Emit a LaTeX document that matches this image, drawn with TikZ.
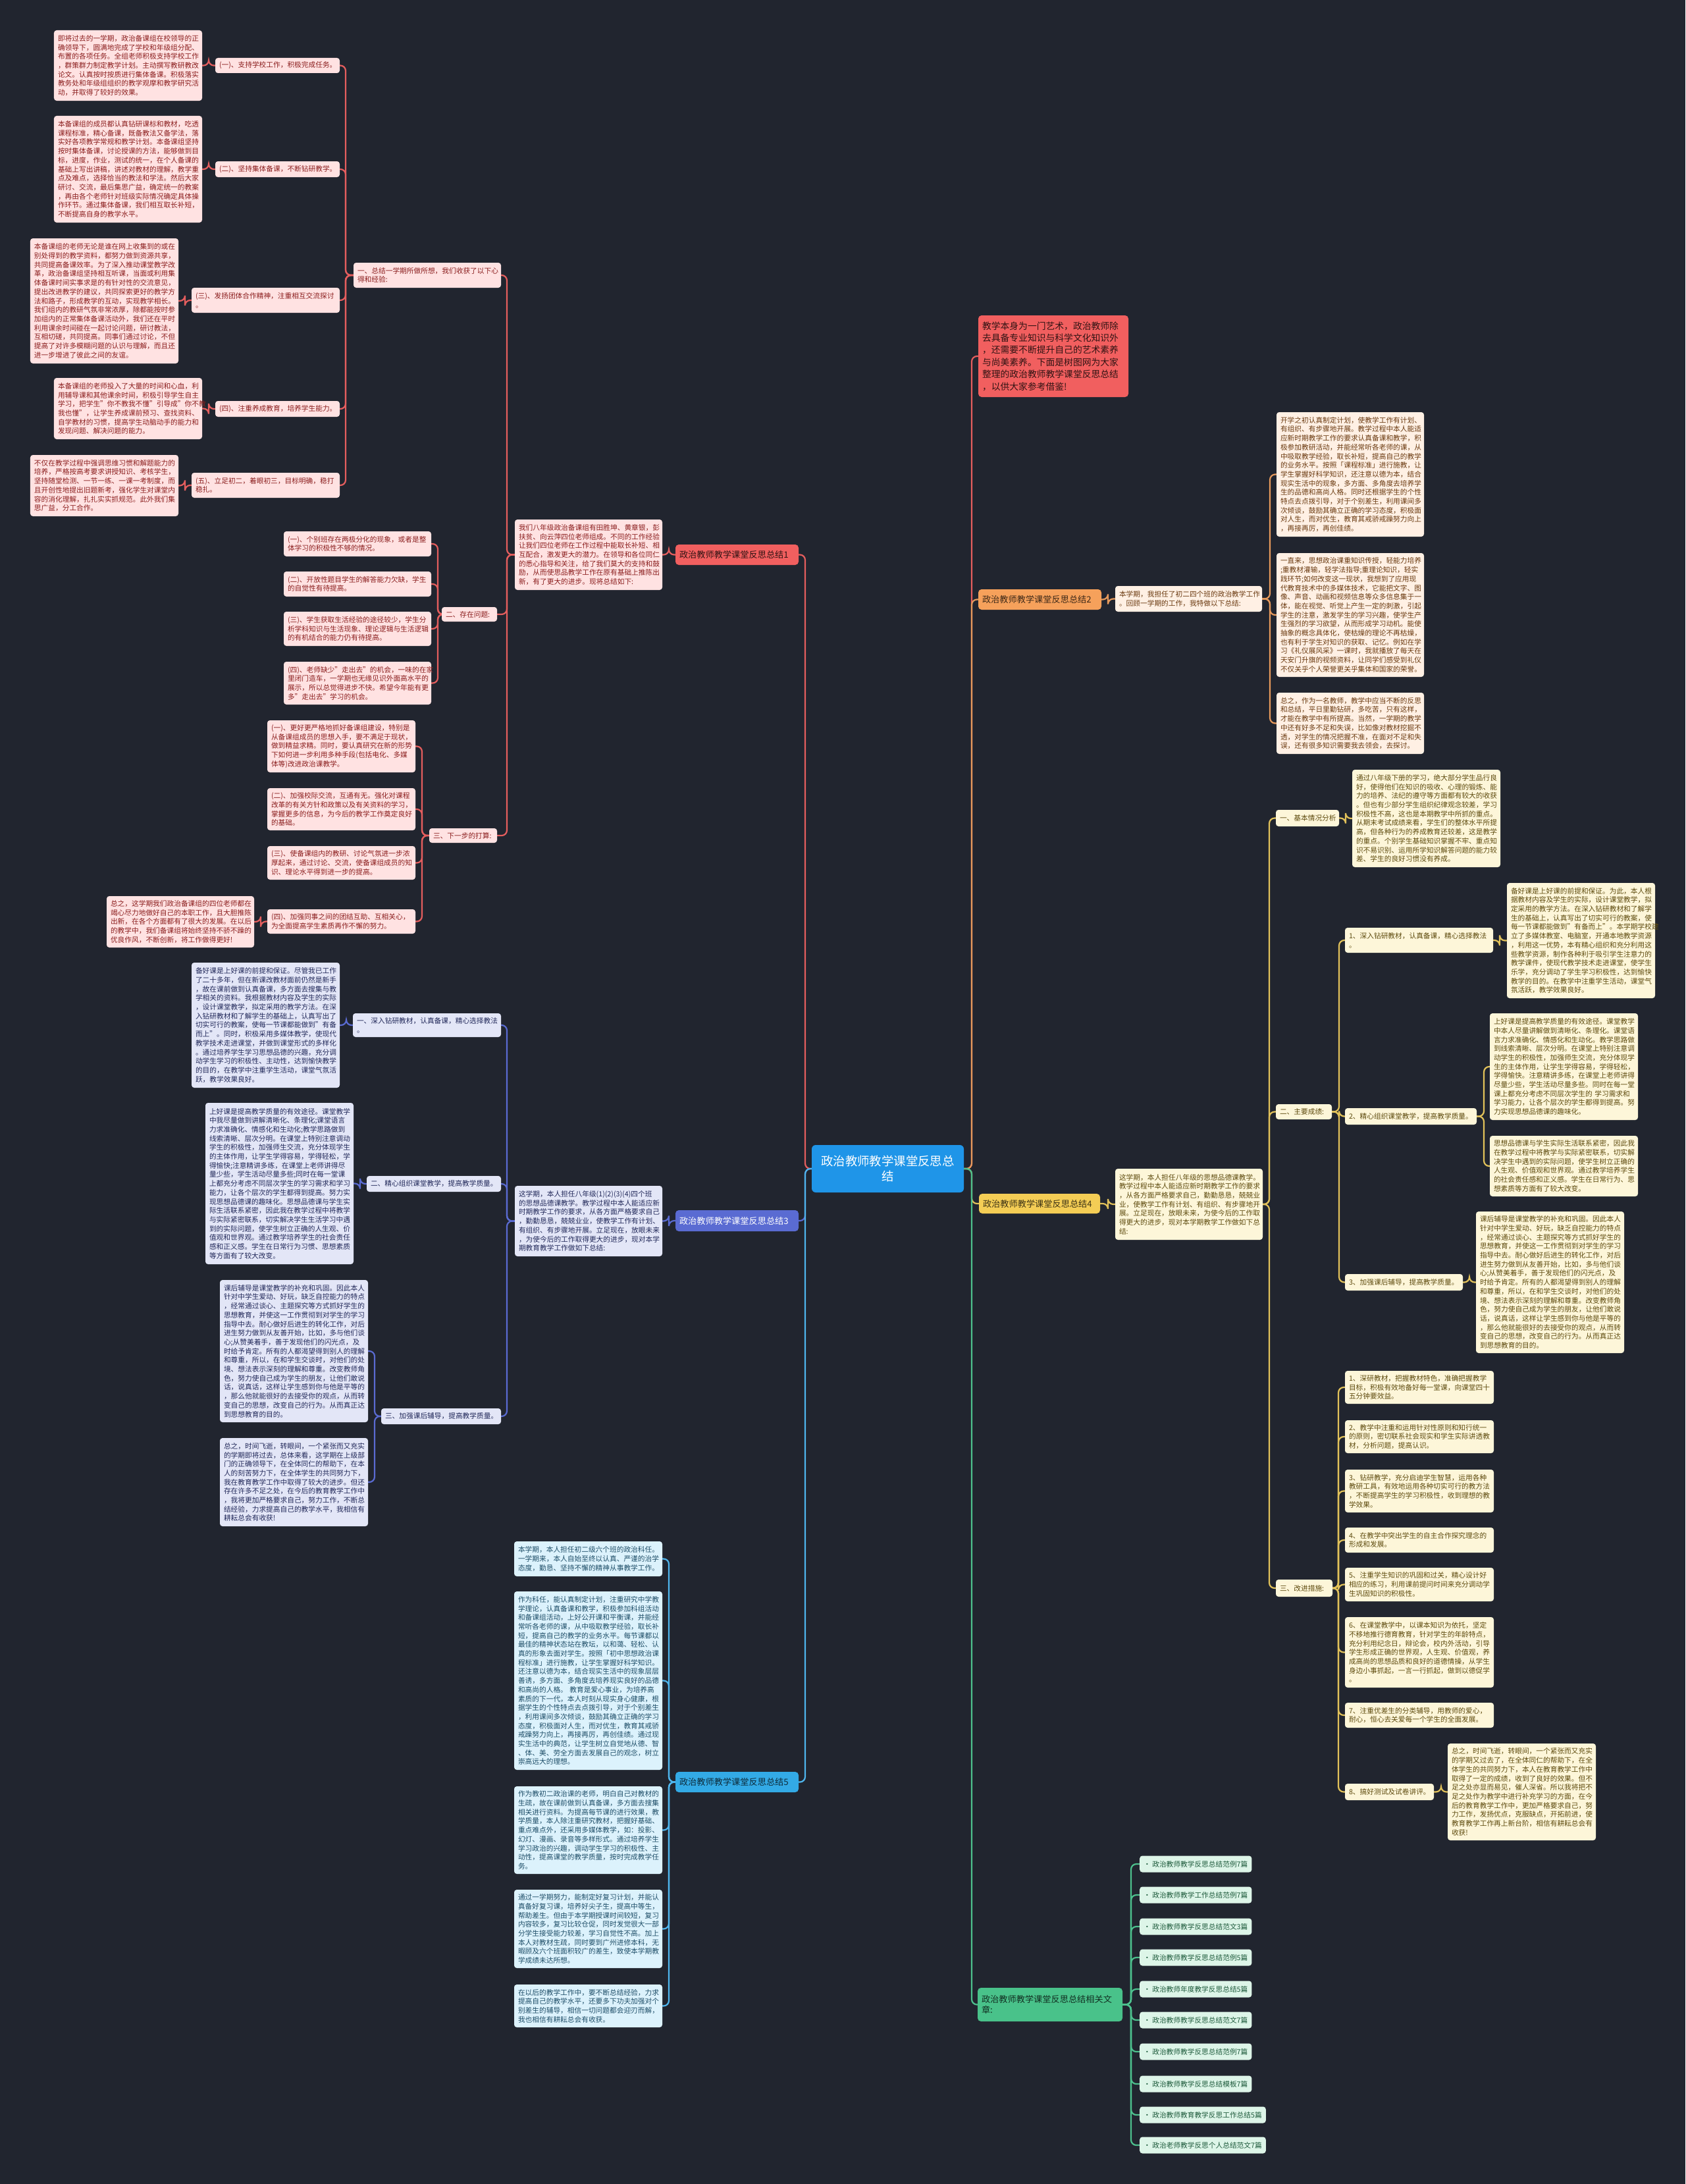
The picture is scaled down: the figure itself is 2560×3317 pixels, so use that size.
\documentclass[tikz,border=0pt]{standalone}
\usepackage{fontspec}
\setmainfont{Noto Sans CJK SC}
\usetikzlibrary{calc}
\definecolor{bg}{RGB}{33,37,47}
\definecolor{cfill}{HTML}{1F95E8}
\definecolor{rnode}{HTML}{F15F5F}\definecolor{rbox}{HTML}{FFE2E2}\definecolor{rtxt}{HTML}{8B1E1E}\definecolor{rln}{HTML}{E55E5E}
\definecolor{inode}{HTML}{5A6BD2}\definecolor{ibox}{HTML}{E3E6F7}\definecolor{itxt}{HTML}{22295A}\definecolor{iln}{HTML}{5A6BD2}
\definecolor{snode}{HTML}{33AAE6}\definecolor{sbox}{HTML}{DCF2FC}\definecolor{stxt}{HTML}{1E4E68}\definecolor{sln}{HTML}{4FB6EE}
\definecolor{onode}{HTML}{F6A15B}\definecolor{obox}{HTML}{FFF0E4}\definecolor{otxt}{HTML}{6A3A10}\definecolor{oln}{HTML}{E69A5C}
\definecolor{ynode}{HTML}{F4CD55}\definecolor{ybox}{HTML}{FDF6D9}\definecolor{ytxt}{HTML}{5E4B0E}\definecolor{yln}{HTML}{E2C25A}
\definecolor{gnode}{HTML}{49C28A}\definecolor{gbox}{HTML}{DDF5E8}\definecolor{gtxt}{HTML}{1D5A3B}\definecolor{gln}{HTML}{4DC08D}
\newcommand\myfs{\fontsize{10.7bp}{13.7bp}\selectfont}
\newcommand\myfm{\fontsize{13.2bp}{16.5bp}\selectfont}
\newcommand\myfi{\fontsize{13.8bp}{18.4bp}\selectfont}
\newcommand\myfc{\fontsize{18.4bp}{23bp}\selectfont}
\newcommand\bx[7]{\pgfmathsetmacro\bxw{#4-#2}\pgfmathsetmacro\bxh{#5-#3}\pgfmathsetmacro\bxt{#4-#2-12}%
 \node[#6,minimum width=\bxw bp,minimum height=\bxh bp,text width=\bxt bp] (#1) at ({(#2+#4)/2},{(#3+#5)/2}) {#7};}
\newcommand\lc[4]{\draw[#1] (#2.west) -- (#2.west -| #3) |- (#4.east);}
\newcommand\rc[4]{\draw[#1] (#2.east) -- (#2.east -| #3) |- (#4.west);}
\pgfdeclarelayer{bgfill}\pgfdeclarelayer{lines}
\pgfsetlayers{bgfill,lines,main}
\tikzset{
 basebox/.style={rounded corners=4bp, inner xsep=6bp, inner ysep=1bp, align=left, font=\myfs},
 lblbox/.style={rounded corners=5bp, inner xsep=6bp, inner ysep=1bp, align=left, font=\myfm},
 rbx/.style={basebox, fill=rbox, text=rtxt}, rnd/.style={lblbox, fill=rnode, text=black!80!rnode},
 ibx/.style={basebox, fill=ibox, text=itxt}, ind/.style={lblbox, fill=inode, text=white},
 sbx/.style={basebox, fill=sbox, text=stxt}, snd/.style={lblbox, fill=snode, text=black!75!snode},
 obx/.style={basebox, fill=obox, text=otxt}, ond/.style={lblbox, fill=onode, text=black!75!onode},
 ybx/.style={basebox, fill=ybox, text=ytxt}, ynd/.style={lblbox, fill=ynode, text=black!75!ynode},
 gbx/.style={basebox, fill=gbox, text=gtxt}, gnd/.style={lblbox, fill=gnode, text=black!75!gnode},
 lnk/.style={line width=2.2bp, rounded corners=8bp},
 rl/.style={lnk, draw=rln}, il/.style={lnk, draw=iln}, sl/.style={lnk, draw=sln},
 ol/.style={lnk, draw=oln}, yl/.style={lnk, draw=yln}, gl/.style={lnk, draw=gln},
}
\begin{document}
\begin{tikzpicture}[x=1bp,y=-1bp]
\begin{pgfonlayer}{bgfill}
\fill[bg] (0,0) rectangle (2560,3317);
\end{pgfonlayer}
\useasboundingbox (0,0) rectangle (2560,3317);
% trunks
\coordinate (tcl) at (1223,0); \coordinate (tcr) at (1476,0);
\coordinate (t1) at (770,0); \coordinate (t1a) at (525,0); \coordinate (t1b) at (665,0); \coordinate (t1c) at (641,0);
\coordinate (t1d) at (396,0); \coordinate (t1e) at (317,0); \coordinate (t1f) at (281,0); \coordinate (t1n) at (1016,0);
\coordinate (t3e) at (569,0); \coordinate (t3a) at (526,0); \coordinate (t3b) at (547,0);
\coordinate (t5) at (1016,0);
\coordinate (t2) at (1929,0); \coordinate (t2n) at (1683,0);
\coordinate (t4) at (1928,0); \coordinate (t4a) at (2044,0); \coordinate (t4b) at (2034,0); \coordinate (t4c) at (2278,0);
\coordinate (t4d) at (2254,0); \coordinate (t4e) at (2232,0); \coordinate (t4f) at (2033,0); \coordinate (t4g) at (2189,0);
\coordinate (t6) at (1718,0);

% ---------- center + intro
\node[fill=cfill, text=white, rounded corners=6bp, font=\myfc, align=center, minimum width=231bp, minimum height=72bp, inner sep=2bp] (C) at (1348.5,1775) {政治教师教学课堂反思总\\结};
\bx{I}{1486}{479}{1714}{603}{rnd,font=\myfi}{教学本身为一门艺术，政治教师除\\去具备专业知识与科学文化知识外\\，还需要不断提升自己的艺术素养\\与尚美素养。下面是树图网为大家\\整理的政治教师教学课堂反思总结\\，以供大家参考借鉴!}

% ---------- Branch 1
\bx{N1}{1026}{827}{1213}{858}{rnd}{政治教师教学课堂反思总结1}
\bx{T1}{782}{789}{1006}{896}{rbx}{我们八年级政治备课组有田胜坤、黄章银，彭\\扶贫、向云萍四位老师组成。不同的工作经验\\让我们四位老师在工作过程中能取长补短、相\\互配合，激发更大的潜力。在领导和各位同仁\\的悉心指导和关注，给了我们莫大的支持和鼓\\励，从而使思品教学工作在原有基础上推陈出\\新，有了更大的进步。现将总结如下:}
\bx{H1}{537}{399}{761}{437}{rbx}{一、总结一学期所做所想，我们收获了以下心\\得和经验:}
\bx{A1}{327}{88}{516}{111}{rbx}{(一)、支持学校工作，积极完成任务。}
\bx{A1t}{82}{46}{307}{153}{rbx}{即将过去的一学期，政治备课组在校领导的正\\确领导下，圆满地完成了学校和年级组分配、\\布置的各项任务。全组老师积极支持学校工作\\，群策群力制定教学计划。主动撰写教研教改\\论文。认真按时按质进行集体备课。积极落实\\教务处和年级组组织的教学观摩和教学研究活\\动，并取得了较好的效果。}
\bx{A2}{327}{245}{516}{269}{rbx}{(二)、坚持集体备课，不断钻研教学。}
\bx{A2t}{82}{176}{307}{338}{rbx}{本备课组的成员都认真钻研课标和教材，吃透\\课程标准，精心备课，既备教法又备学法，落\\实好各项教学常规和教学计划。本备课组坚持\\按时集体备课，讨论授课的方法，能够做到目\\标，进度，作业，测试的统一，在个人备课的\\基础上写出讲稿，讲述对教材的理解，教学重\\点及难点，选择恰当的教法和学法。然后大家\\研讨、交流，最后集思广益，确定统一的教案\\，再由各个老师针对班级实际情况确定具体操\\作环节。通过集体备课，我们相互取长补短，\\不断提高自身的教学水平。}
\bx{A3}{291}{437}{516}{475}{rbx}{(三)、发扬团体合作精神，注重相互交流探讨\\。}
\bx{A3t}{46}{362}{271}{552}{rbx}{本备课组的老师无论是谁在网上收集到的或在\\别处得到的教学资料，都努力做到资源共享，\\共同提高备课效率。为了深入推动课堂教学改\\革，政治备课组坚持相互听课，当面或利用集\\体备课时间实事求是的有针对性的交流意见，\\提出改进教学的建议，共同探索更好的教学方\\法和路子，形成教学的互动，实现教学相长。\\我们组内的教研气氛非常浓厚，除都能按时参\\加组内的正常集体备课活动外，我们还在平时\\利用课余时间碰在一起讨论问题，研讨教法，\\互相切磋，共同提高。同事们通过讨论，不但\\提高了对许多模糊问题的认识与理解，而且还\\进一步增进了彼此之间的友谊。}
\bx{A4}{327}{609}{516}{633}{rbx}{(四)、注重养成教育，培养学生能力。}
\bx{A4t}{82}{574}{307}{667}{rbx}{本备课组的老师投入了大量的时间和心血，利\\用辅导课和其他课余时间，积极引导学生自主\\学习，把学生"你不教我不懂"引导成"你不教\\我也懂"，让学生养成课前预习、查找资料、\\自学教材的习惯，提高学生动脑动手的能力和\\发现问题、解决问题的能力。}
\bx{A5}{291}{718}{516}{756}{rbx}{(五)、立足初二，着眼初三，目标明确，稳打\\稳扎。}
\bx{A5t}{46}{691}{271}{784}{rbx}{不仅在教学过程中强调思维习惯和解题能力的\\培养，严格按高考要求讲授知识、考核学生，\\坚持随堂检测、一节一练、一课一考制度，而\\且开创性地提出旧题新考，强化学生对课堂内\\容的消化理解，扎扎实实抓规范。此外我们集\\思广益，分工合作。}
\bx{H2}{671}{922}{755}{944}{rbx}{二、存在问题:}
\bx{B1}{431}{807}{655}{845}{rbx}{(一)、个别班存在两极分化的现象，或者是整\\体学习的积极性不够的情况。}
\bx{B2}{431}{868}{655}{906}{rbx}{(二)、开放性题目学生的解答能力欠缺，学生\\的自觉性有待提高。}
\bx{B3}{431}{929}{655}{981}{rbx}{(三)、学生获取生活经验的途径较少，学生分\\析学科知识与生活现象、理论逻辑与生活逻辑\\的有机结合的能力仍有待提高。}
\bx{B4}{431}{1005}{655}{1070}{rbx}{(四)、老师缺少"走出去"的机会，一味的在家\\里闭门造车，一学期也无缘见识外面高水平的\\展示，所以总觉得进步不快。希望今年能有更\\多"走出去"学习的机会。}
\bx{H3}{652}{1258}{755}{1280}{rbx}{三、下一步的打算:}
\bx{D1}{406}{1094}{631}{1173}{rbx}{(一)、更好更严格地抓好备课组建设，特别是\\从备课组成员的思想入手，要不满足于现状，\\做到精益求精。同时，要认真研究在新的形势\\下如何进一步利用多种手段(包括电化、多媒\\体等)改进政治课教学。}
\bx{D2}{406}{1197}{631}{1261}{rbx}{(二)、加强校际交流，互通有无。强化对课程\\改革的有关方针和政策以及有关资料的学习，\\掌握更多的信息，为今后的教学工作奠定良好\\的基础。}
\bx{D3}{406}{1285}{631}{1336}{rbx}{(三)、使备课组内的教研、讨论气氛进一步浓\\厚起来，通过讨论、交流，使备课组成员的知\\识、理论水平得到进一步的提高。}
\bx{D4}{406}{1381}{631}{1418}{rbx}{(四)、加强同事之间的团结互助、互相关心，\\为全面提高学生素质再作不懈的努力。}
\bx{D5}{162}{1361}{386}{1439}{rbx}{总之，这学期我们政治备课组的四位老师都在\\竭心尽力地做好自己的本职工作，且大胆推陈\\出新，在各个方面都有了很大的发展。在以后\\的教学中，我们备课组将始终坚持不骄不躁的\\优良作风，不断创新，将工作做得更好!}

% ---------- Branch 3
\bx{N3}{1026}{1838}{1213}{1870}{ind}{政治教师教学课堂反思总结3}
\bx{T3}{782}{1801}{1006}{1908}{ibx}{这学期，本人担任八年级(1)(2)(3)(4)四个班\\的思想品德课教学。教学过程中本人能适应新\\时期教学工作的要求，从各方面严格要求自己\\，勤勤恳恳，兢兢业业，使教学工作有计划、\\有组织、有步骤地开展。立足现在，放眼未来\\，为使今后的工作取得更大的进步，现对本学\\期教育教学工作做如下总结:}
\bx{E1}{536}{1539}{761}{1575}{ibx}{一、深入钻研教材，认真备课，精心选择教法\\。}
\bx{E1t}{291}{1462}{516}{1652}{ibx}{备好课是上好课的前提和保证。尽管我已工作\\了二十多年，但在新课改教材面前仍然是新手\\，故在课前做到认真备课，多方面去搜集与教\\学相关的资料。我根据教材内容及学生的实际\\，设计课堂教学，拟定采用的教学方法。在深\\入钻研教材和了解学生的基础上，认真写出了\\切实可行的教案，使每一节课都能做到"有备\\而上"。同时，积极采用多媒体教学，使现代\\教学技术走进课堂，并做到课堂形式的多样化\\。通过培养学生学习思想品德的兴趣，充分调\\动学生学习的积极性、主动性，达到愉快教学\\的目的，在教学中注重学生活动，课堂气氛活\\跃，教学效果良好。}
\bx{E2}{557}{1786}{761}{1810}{ibx}{二、精心组织课堂教学，提高教学质量。}
\bx{E2t}{312}{1675}{537}{1920}{ibx}{上好课是提高教学质量的有效途径。课堂教学\\中我尽量做到讲解清晰化、条理化;课堂语言\\力求准确化、情感化和生动化;教学思路做到\\线索清晰、层次分明。在课堂上特别注意调动\\学生的积极性，加强师生交流，充分体现学生\\的主体作用，让学生学得容易，学得轻松，学\\得愉快;注意精讲多练，在课堂上老师讲得尽\\量少些，学生活动尽量多些;同时在每一堂课\\上都充分考虑不同层次学生的学习需求和学习\\能力，让各个层次的学生都得到提高。努力实\\现思想品德课的趣味化。思想品德课与学生实\\际生活联系紧密，因此我在教学过程中将教学\\与实际紧密联系，切实解决学生生活学习中遇\\到的实际问题，使学生树立正确的人生观、价\\值观和世界观。通过教学培养学生的社会责任\\感和正义感。学生在日常行为习惯、思想素质\\等方面有了较大改变。}
\bx{E3}{579}{2139}{761}{2163}{ibx}{三、加强课后辅导，提高教学质量。}
\bx{E3t}{334}{1944}{559}{2160}{ibx}{课后辅导是课堂教学的补充和巩固。因此本人\\针对中学生爱动、好玩，缺乏自控能力的特点\\，经常通过谈心、主题探究等方式抓好学生的\\思想教育，并使这一工作贯彻到对学生的学习\\指导中去。耐心做好后进生的转化工作，对后\\进生努力做到从友善开始，比如，多与他们谈\\心;从赞美着手，善于发现他们的闪光点，及\\时给予肯定。所有的人都渴望得到别人的理解\\和尊重，所以，在和学生交谈时，对他们的处\\境、想法表示深刻的理解和尊重。改变教师角\\色，努力使自己成为学生的朋友，让他们敢说\\话，说真话，这样让学生感到你与他是平等的\\，那么他就能很好的去接受你的观点，从而转\\变自己的思想，改变自己的行为。从而真正达\\到思想教育的目的。}
\bx{E4}{334}{2184}{559}{2318}{ibx}{总之，时间飞逝，转眼间，一个紧张而又充实\\的学期即将过去，总体来看，这学期在上级部\\门的正确领导下，在全体同仁的帮助下，在本\\人的刻苦努力下，在全体学生的共同努力下，\\我在教育教学工作中取得了较大的进步。但还\\存在许多不足之处，在今后的教育教学工作中\\，我将更加严格要求自己，努力工作，不断总\\结经验，力求提高自己的教学水平，我相信有\\耕耘总会有收获!}

% ---------- Branch 5
\bx{N5}{1026}{2691}{1213}{2722}{snd}{政治教师教学课堂反思总结5}
\bx{F1}{781}{2341}{1006}{2394}{sbx}{本学期，本人担任初二级六个班的政治科任。\\一学期来，本人自始至终以认真、严谨的治学\\态度，勤恳、坚持不懈的精神从事教学工作。}
\bx{F2}{781}{2417}{1006}{2688}{sbx}{作为科任，能认真制定计划，注重研究中学教\\学理论，认真备课和教学，积极参加科组活动\\和备课组活动，上好公开课和平衡课，并能经\\常听各老师的课，从中吸取教学经验，取长补\\短，提高自己的教学的业务水平。每节课都以\\最佳的精神状态站在教坛，以和蔼、轻松、认\\真的形象去面对学生。按照「初中思想政治课\\程标准」进行施教，让学生掌握好科学知识。\\还注意以德为本，结合现实生活中的现象层层\\善诱，多方面、多角度去培养现实良好的品德\\和高尚的人格。 教育是爱心事业，为培养高\\素质的下一代，本人时刻从现实身心健康，根\\据学生的个性特点去点拨引导，对于个别差生\\，利用课间多次倾谈，鼓励其确立正确的学习\\态度，积极面对人生，而对优生，教育其戒骄\\戒躁努力向上，再接再厉，再创佳绩。通过现\\实生活中的典范，让学生树立自觉地从德、智\\、体、美、劳全方面去发展自己的观念，树立\\崇高远大的理想。}
\bx{F3}{781}{2713}{1006}{2846}{sbx}{作为教初二政治课的老师，明白自己对教材的\\生疏，故在课前做到认真备课，多方面去搜集\\相关进行资料。为提高每节课的进行效果，教\\学质量，本人除注重研究教材，把握好基础、\\重点难点外，还采用多媒体教学，如：投影、\\幻灯、漫画、录音等多样形式。通过培养学生\\学习政治的兴趣，调动学生学习的积极性、主\\动性，提高课堂的教学质量，按时完成教学任\\务。}
\bx{F4}{781}{2870}{1006}{2989}{sbx}{通过一学期努力，能制定好复习计划，并能认\\真备好复习课，培养好尖子生，提高中等生，\\帮助差生。但由于本学期授课时间较短，复习\\内容较多，复习比较仓促，同时发觉很大一部\\分学生接受能力较差，学习自觉性不高。加上\\本人对教材生疏，同时要到广州进修本科，无\\暇顾及六个班面积较广的差生，致使本学期教\\学成绩未达所想。}
\bx{F5}{781}{3014}{1006}{3079}{sbx}{在以后的教学工作中，要不断总结经验，力求\\提高自己的教学水平，还要多下功夫加强对个\\别差生的辅导，相信一切问题都会迎刃而解，\\我也相信有耕耘总会有收获。}

% ---------- Branch 2
\bx{N2}{1486}{895}{1673}{926}{ond}{政治教师教学课堂反思总结2}
\bx{G0}{1694}{890}{1917}{929}{obx}{本学期，我担任了初二四个班的政治教学工作\\。回顾一学期的工作，我特做以下总结:}
\bx{G1}{1939}{626}{2163}{815}{obx}{开学之初认真制定计划，使教学工作有计划、\\有组织、有步骤地开展。教学过程中本人能适\\应新时期教学工作的要求认真备课和教学，积\\极参加教研活动，并能经常听各老师的课，从\\中吸取教学经验，取长补短，提高自己的教学\\的业务水平。按照「课程标准」进行施教，让\\学生掌握好科学知识，还注意以德为本，结合\\现实生活中的现象，多方面、多角度去培养学\\生的品德和高尚人格。同时还根据学生的个性\\特点去点拨引导，对于个别差生，利用课间多\\次倾谈，鼓励其确立正确的学习态度，积极面\\对人生，而对优生，教育其戒骄戒躁努力向上\\，再接再厉，再创佳绩。}
\bx{G2}{1939}{840}{2163}{1028}{obx}{一直来，思想政治课重知识传授，轻能力培养\\;重教材灌输，轻学法指导;重理论知识，轻实\\践环节;如何改变这一现状，我想到了应用现\\代教育技术中的多媒体技术，它能把文字、图\\像、声音、动画和视频信息等众多信息集于一\\体，能在视觉、听觉上产生一定的刺激，引起\\学生的注意，激发学生的学习兴趣，使学生产\\生强烈的学习欲望，从而形成学习动机。能使\\抽象的概念具体化，使枯燥的理论不再枯燥，\\也有利于学生对知识的获取、记忆。例如在学\\习《礼仪展风采》一课时，我就播放了每天在\\天安门升旗的视频资料，让同学们感受到礼仪\\不仅关乎个人荣誉更关乎集体和国家的荣誉。}
\bx{G3}{1939}{1052}{2163}{1145}{obx}{总之，作为一名教师，教学中应当不断的反思\\和总结，平日里勤钻研，多吃苦，只有这样，\\才能在教学中有所提高。当然，一学期的教学\\中还有好多不足和失误，比如像对教材挖掘不\\透，对学生的情况把握不准，在面对不足和失\\误，还有很多知识需要我去领会，去探讨。}

% ---------- Branch 4
\bx{N4}{1487}{1813}{1671}{1843}{ynd}{政治教师教学课堂反思总结4}
\bx{K0}{1694}{1775}{1918}{1883}{ybx}{这学期，本人担任八年级的思想品德课教学。\\教学过程中本人能适应新时期教学工作的要求\\，从各方面严格要求自己，勤勤恳恳，兢兢业\\业，使教学工作有计划、有组织、有步骤地开\\展。立足现在，放眼未来，为使今后的工作取\\得更大的进步，现对本学期教学工作做如下总\\结:}
\bx{K1}{1938}{1230}{2034}{1255}{ybx}{一、基本情况分析}
\bx{K1t}{2054}{1169}{2279}{1317}{ybx}{通过八年级下册的学习，绝大部分学生品行良\\好，使得他们在知识的吸收、心理的锻炼、能\\力的培养、法纪的遵守等方面都有较大的收获\\。但也有少部分学生组织纪律观念较差，学习\\积极性不高，这也是本期教学中所抓的重点。\\从期末考试成绩来看，学生们的整体水平所提\\高，但各种行为的养成教育还较差，这是教学\\的重点。个别学生基础知识掌握不牢、重点知\\识不易识别、运用所学知识解答问题的能力较\\差、学生的良好习惯没有养成。}
\bx{K2}{1938}{1677}{2023}{1700}{ybx}{二、主要成绩:}
\bx{L1}{2043}{1409}{2268}{1447}{ybx}{1、深入钻研教材，认真备课，精心选择教法\\。}
\bx{L1t}{2289}{1341}{2514}{1516}{ybx}{备好课是上好课的前提和保证。为此，本人根\\据教材内容及学生的实际，设计课堂教学，拟\\定采用的教学方法。在深入钻研教材和了解学\\生的基础上，认真写出了切实可行的教案，使\\每一节课都能做到"有备而上"。本学期学校建\\立了多媒体教室、电脑室，开通本地教学资源\\，利用这一优势，本有精心组织和充分利用这\\些教学资源，制作各种利于吸引学生注意力的\\教学课件，使现代教学技术走进课堂，使学生\\乐学，充分调动了学生学习积极性，达到愉快\\教学的目的。在教学中注重学生活动，课堂气\\氛活跃，教学效果良好。}
\bx{L2}{2043}{1683}{2243}{1708}{ybx}{2、精心组织课堂教学，提高教学质量。}
\bx{L2a}{2263}{1539}{2488}{1701}{ybx}{上好课是提高教学质量的有效途径。课堂教学\\中本人尽量讲解做到清晰化、条理化。课堂语\\言力求准确化、情感化和生动化。教学思路做\\到线索清晰、层次分明。在课堂上特别注意调\\动学生的积极性，加强师生交流，充分体现学\\生的主体作用，让学生学得容易，学得轻松，\\学得愉快。注意精讲多练，在课堂上老师讲得\\尽量少些，学生活动尽量多些。同时在每一堂\\课上都充分考虑不同层次学生的 学习需求和\\学习能力，让各个层次的学生都得到提高。努\\力实现思想品德课的趣味化。}
\bx{L2b}{2263}{1725}{2488}{1817}{ybx}{思想品德课与学生实际生活联系紧密，因此我\\在教学过程中将教学与实际紧密联系，切实解\\决学生中遇到的实际问题，使学生树立正确的\\人生观、价值观和世界观。通过教学培养学生\\的社会责任感和正义感。学生在日常行为、思\\想素质等方面有了较大改变。}
\bx{L3}{2043}{1935}{2222}{1960}{ybx}{3、加强课后辅导，提高教学质量。}
\bx{L3t}{2242}{1840}{2467}{2055}{ybx}{课后辅导是课堂教学的补充和巩固。因此本人\\针对中学生爱动、好玩，缺乏自控能力的特点\\，经常通过谈心、主题探究等方式抓好学生的\\思想教育，并使这一工作贯彻到对学生的学习\\指导中去。耐心做好后进生的转化工作，对后\\进生努力做到从友善开始，比如，多与他们谈\\心;从赞美着手，善于发现他们的闪光点，及\\时给予肯定。所有的人都渴望得到别人的理解\\和尊重，所以，在和学生交谈时，对他们的处\\境、想法表示深刻的理解和尊重。改变教师角\\色，努力使自己成为学生的朋友，让他们敢说\\话，说真话，这样让学生感到你与他是平等的\\，那么他就能很好的去接受你的观点，从而转\\变自己的思想，改变自己的行为。从而真正达\\到思想教育的目的。}
\bx{K3}{1938}{2399}{2024}{2425}{ybx}{三、改进措施:}
\bx{M1}{2043}{2082}{2269}{2132}{ybx}{1、深研教材，把握教材特色，准确把握教学\\目标，积极有效地备好每一堂课，向课堂四十\\五分钟要效益。}
\bx{M2}{2043}{2157}{2269}{2207}{ybx}{2、教学中注重和运用针对性原则和知行统一\\的原则，密切联系社会现实和学生实际讲透教\\材，分析问题，提高认识。}
\bx{M3}{2043}{2232}{2269}{2297}{ybx}{3、钻研教学，充分启迪学生智慧，运用各种\\教研工具，有效地运用各种切实可行的教方法\\，不断提高学生的学习积极性，收到理想的教\\学效果。}
\bx{M4}{2043}{2320}{2269}{2358}{ybx}{4、在教学中突出学生的自主合作探究理念的\\形成和发展。}
\bx{M5}{2043}{2381}{2269}{2432}{ybx}{5、注重学生知识的巩固和过关，精心设计好\\相应的练习，利用课前提问时间来充分调动学\\生巩固知识的积极性。}
\bx{M6}{2043}{2456}{2269}{2563}{ybx}{6、在课堂教学中，以课本知识为依托，坚定\\不移地推行德育教育，针对学生的年龄特点，\\充分利用纪念日，辩论会，校内外活动，引导\\学生形成正确的世界观，人生观、价值观，养\\成高尚的思想品质和良好的道德情操，从学生\\身边小事抓起，一言一行抓起，做到以德促学\\。}
\bx{M7}{2043}{2586}{2269}{2624}{ybx}{7、注重优差生的分类辅导，用教师的爱心，\\耐心，恒心去关爱每一个学生的全面发展。}
\bx{M8}{2043}{2709}{2178}{2734}{ybx}{8、搞好测试及试卷讲评。}
\bx{M8t}{2199}{2648}{2424}{2795}{ybx}{总之，时间飞逝，转眼间，一个紧张而又充实\\的学期又过去了，在全体同仁的帮助下，在全\\体学生的共同努力下，本人在教育教学工作中\\取得了一定的成绩，收到了良好的效果。但不\\足之处亦显而易见，催人深省。所以我将把不\\足之处作为教学中进行补充学习的方面，在今\\后的教育教学工作中，更加严格要求自己，努\\力工作，发扬优点，克服缺点，开拓前进，使\\教育教学工作再上新台阶，相信有耕耘总会有\\收获!}

% ---------- Branch 6
\bx{N6}{1485}{3019}{1705}{3070}{gnd}{政治教师教学课堂反思总结相关文\\章:}
\foreach \i/\yy/\tt in {1/2831/政治教师教学反思总结范例7篇, 2/2878/政治教师教学工作总结范例7篇, 3/2926/政治教师教学反思总结范文3篇, 4/2973/政治教师教学反思总结范例5篇, 5/3021/政治教师年度教学反思总结5篇, 6/3068/政治教师教学反思总结范文7篇, 7/3116/政治教师教学反思总结范例7篇, 8/3165/政治教师教学反思总结模板7篇, 9/3212/政治教师教育教学反思工作总结5篇, 10/3258/政治老师教学反思个人总结范文7篇}{
 \node[gbx, anchor=west, minimum height=25bp] (P\i) at (1731,\yy) {\textbullet\ \tt};
}

% ---------- connectors
\begin{pgfonlayer}{lines}
\rc{rl}{C}{tcr}{I}
\lc{rl}{C}{tcl}{N1}\lc{il}{C}{tcl}{N3}\lc{sl}{C}{tcl}{N5}
\rc{ol}{C}{tcr}{N2}\rc{yl}{C}{tcr}{N4}\rc{gl}{C}{tcr}{N6}
% branch1
\lc{rl}{N1}{t1n}{T1}
\lc{rl}{T1}{t1}{H1}\lc{rl}{T1}{t1}{H2}\lc{rl}{T1}{t1}{H3}
\foreach \k in {A1,A2,A3,A4,A5}{\lc{rl}{H1}{t1a}{\k}}
\lc{rl}{A1}{t1e}{A1t}\lc{rl}{A2}{t1e}{A2t}\lc{rl}{A3}{t1f}{A3t}\lc{rl}{A4}{t1e}{A4t}\lc{rl}{A5}{t1f}{A5t}
\foreach \k in {B1,B2,B3,B4}{\lc{rl}{H2}{t1b}{\k}}
\foreach \k in {D1,D2,D3,D4}{\lc{rl}{H3}{t1c}{\k}}
\lc{rl}{D4}{t1d}{D5}
% branch3
\lc{il}{N3}{t1n}{T3}
\lc{il}{T3}{t1}{E1}\lc{il}{T3}{t1}{E2}\lc{il}{T3}{t1}{E3}
\lc{il}{E1}{t3a}{E1t}\lc{il}{E2}{t3b}{E2t}
\lc{il}{E3}{t3e}{E3t}\lc{il}{E3}{t3e}{E4}
% branch5
\foreach \k in {F1,F2,F3,F4,F5}{\lc{sl}{N5}{t5}{\k}}
% branch2
\rc{ol}{N2}{t2n}{G0}
\foreach \k in {G1,G2,G3}{\rc{ol}{G0}{t2}{\k}}
% branch4
\rc{yl}{N4}{t2n}{K0}
\rc{yl}{K0}{t4}{K1}\rc{yl}{K0}{t4}{K2}\rc{yl}{K0}{t4}{K3}
\rc{yl}{K1}{t4a}{K1t}
\rc{yl}{K2}{t4b}{L1}\rc{yl}{K2}{t4b}{L2}\rc{yl}{K2}{t4b}{L3}
\rc{yl}{L1}{t4c}{L1t}
\rc{yl}{L2}{t4d}{L2a}\rc{yl}{L2}{t4d}{L2b}
\rc{yl}{L3}{t4e}{L3t}
\foreach \k in {M1,M2,M3,M4,M5,M6,M7,M8}{\rc{yl}{K3}{t4f}{\k}}
\rc{yl}{M8}{t4g}{M8t}
% branch6
\foreach \i in {1,...,10}{\rc{gl}{N6}{t6}{P\i}}
\end{pgfonlayer}
\end{tikzpicture}
\end{document}
